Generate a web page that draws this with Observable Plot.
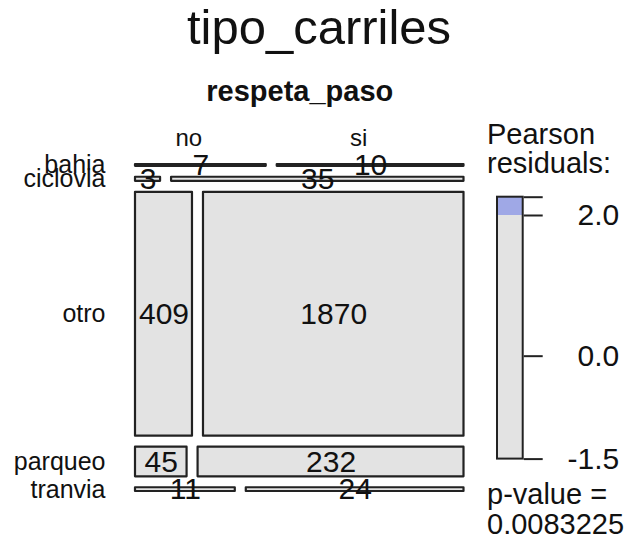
<!DOCTYPE html>
<html>
<head>
<meta charset="utf-8">
<script src="https://cdn.jsdelivr.net/npm/d3@7"></script>
<script src="https://cdn.jsdelivr.net/npm/@observablehq/plot@0.6"></script>
<style>
  body { margin: 0; background: #fff; }
  #wrap { position: relative; width: 631px; height: 539px; background: #fff; overflow: hidden;
          font-family: "Liberation Sans", Arial, sans-serif; color: #000; }
  .abs { position: absolute; white-space: nowrap; }
</style>
</head>
<body>
<div id="wrap"></div>
<script>
// ---- data ----
const titleText = "tipo_carriles";
const colVarName = "respeta_paso";
const rowLevels = ["bahia", "ciclovia", "otro", "parqueo", "tranvia"];
const colLevels = ["no", "si"];
const countsNo = [7, 3, 409, 45, 11];
const countsSi = [10, 35, 1870, 232, 24];
const legendTitle = ["Pearson", "residuals:"];
const pValueLabel = ["p-value =", "0.0083225"];

// ---- derived ----
const counts = rowLevels.map((r, i) => [countsNo[i], countsSi[i]]);
const rowTot = counts.map(r => d3.sum(r));
const colTot = colLevels.map((c, j) => d3.sum(counts, r => r[j]));
const N = d3.sum(rowTot);

const GAP = 0.0335; // spacing between tiles (fraction of panel)
const availY = 1 - GAP * (rowLevels.length - 1);
const availX = 1 - GAP * (colLevels.length - 1);

const fillFor = r => r > 4 ? "#4a6fe3" : r > 2 ? "#9fa8e6" : r < -4 ? "#e34a5a" : r < -2 ? "#e6a0a8" : "#e3e3e3";

const cells = [];
const rowsInfo = [];
let yCursor = 0;
rowLevels.forEach((row, i) => {
  const h = rowTot[i] / N * availY;
  const y1 = yCursor, y2 = yCursor + h;
  rowsInfo.push({row, y: (y1 + y2) / 2});
  let xCursor = 0;
  colLevels.forEach((col, j) => {
    const obs = counts[i][j];
    const E = rowTot[i] * colTot[j] / N;
    const res = (obs - E) / Math.sqrt(E);
    const w = obs / rowTot[i] * availX;
    cells.push({row, col, obs, res, x1: xCursor, x2: xCursor + w, y1, y2, ri: i});
    xCursor += w + GAP;
  });
  yCursor = y2 + GAP;
});

const resMin = d3.min(cells, d => d.res);
const resMax = d3.max(cells, d => d.res);

const wrap = document.getElementById("wrap");
const FONT = "'Liberation Sans', Arial, sans-serif";

// ---- mosaic ----
const firstRow = cells.filter(d => d.ri === 0);
const mosaic = Plot.plot({
  width: 480,
  height: 539,
  marginLeft: 135,
  marginRight: 16.5,
  marginTop: 164,
  marginBottom: 48,
  x: {domain: [0, 1], axis: null},
  y: {domain: [0, 1], reverse: true, axis: null},
  style: {position: "absolute", left: "0px", top: "0px", fontFamily: FONT, background: "transparent", color: "#000"},
  marks: [
    Plot.rect(cells, {x1: "x1", x2: "x2", y1: "y1", y2: "y2", fill: d => fillFor(d.res),
      stroke: "#222", strokeWidth: 2.2, strokeLinejoin: "round"}),
    Plot.text(cells, {x: d => (d.x1 + d.x2) / 2, y: d => (d.y1 + d.y2) / 2, text: d => String(d.obs),
      fontSize: 30, fill: "#111"}),
    Plot.text(rowsInfo, {x: 0, y: "y", text: "row", textAnchor: "end", dx: -30, fontSize: 25, fill: "#111"}),
    Plot.text(firstRow, {x: d => (d.x1 + d.x2) / 2, text: "col", frameAnchor: "top", lineAnchor: "bottom",
      dy: -19, dx: -12, fontSize: 24, fill: "#111"}),
    Plot.text([colVarName], {text: d => d, frameAnchor: "top", lineAnchor: "bottom", dy: -64,
      fontSize: 29, fontWeight: "bold", fill: "#111"})
  ]
});
wrap.appendChild(mosaic);

// ---- legend ----
const bins = [-Infinity, -4, -2, 2, 4, Infinity];
const legendBands = [];
for (let k = 0; k < bins.length - 1; k++) {
  const lo = Math.max(bins[k], resMin), hi = Math.min(bins[k + 1], resMax);
  if (hi > lo) legendBands.push({lo, hi, fill: fillFor((lo + hi) / 2)});
}
const legendTicks = [resMin, 0, 2, resMax];
const fmt1 = v => d3.format(".1f")(v).replace("\u2212", "-");
const legendLabels = [fmt1(resMin), fmt1(0), fmt1(2), ""];

const legend = Plot.plot({
  width: 151,
  height: 539,
  marginLeft: 17,
  marginRight: 108.3,
  marginTop: 196.7,
  marginBottom: 80.4,
  x: {domain: [0, 1], axis: null},
  y: {domain: [resMin, resMax], axis: null},
  style: {position: "absolute", left: "480px", top: "0px", fontFamily: FONT, background: "transparent", color: "#000"},
  marks: [
    Plot.rect(legendBands, {x1: 0, x2: 1, y1: "lo", y2: "hi", fill: "fill"}),
    Plot.rect([{lo: resMin, hi: resMax}], {x1: 0, x2: 1, y1: "lo", y2: "hi", fill: "none", stroke: "#222", strokeWidth: 2}),
    Plot.axisY(legendTicks, {anchor: "right", tickSize: 19, tickPadding: 77, textAnchor: "end",
      tickFormat: (d, i) => legendLabels[i], fontSize: 30, stroke: "#222", strokeWidth: 2, fill: "#111",
      strokeOpacity: 1})
  ]
});
wrap.appendChild(legend);

// ---- text blocks ----
function addText(lines, left, top, size, lh, extra = {}) {
  const div = document.createElement("div");
  div.className = "abs";
  div.style.left = left + "px";
  div.style.top = top + "px";
  div.style.fontSize = size + "px";
  div.style.lineHeight = lh + "px";
  Object.assign(div.style, extra);
  div.innerHTML = lines.map(l => `<div>${l}</div>`).join("");
  wrap.appendChild(div);
  return div;
}
addText([titleText], 0, 0, 49, 55, {width: "638px", textAlign: "center", color: "#111"});
addText(legendTitle, 487, 120, 29, 29, {color: "#111"});
addText(pValueLabel, 487, 479, 29, 30, {color: "#111"});
</script>
</body>
</html>
